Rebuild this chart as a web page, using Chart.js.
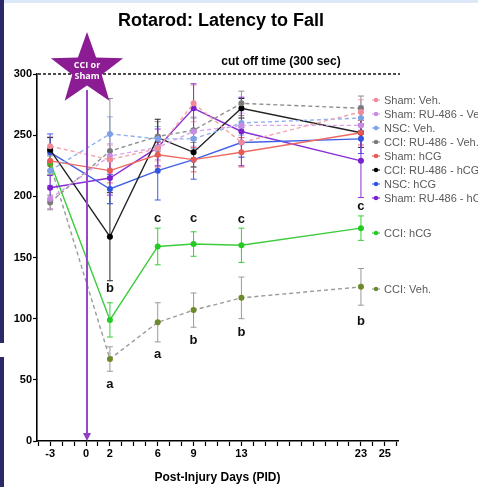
<!DOCTYPE html>
<html>
<head>
<meta charset="utf-8">
<script src="https://cdn.jsdelivr.net/npm/chart.js@4"></script>
<style>
  html, body { margin: 0; padding: 0; background: #fff; }
  #wrap { position: relative; width: 478px; height: 487px; overflow: hidden; }
  canvas { position: absolute; left: 0; top: 0; }
  .band { position: absolute; left: 0; top: 0; width: 478px; height: 3px; background: #dce8f7; }
  .edge { position: absolute; left: 0; width: 4px; background: #2b2969; }
</style>
</head>
<body>
<div id="wrap">
  <canvas id="c" width="478" height="487"></canvas>
  <div class="band"></div>
  <div class="edge" style="top:0;height:343px"></div>
  <div class="edge" style="top:357px;height:130px"></div>
</div>
<script>
// Test days (post-injury days; -3 is the pre-injury baseline)
const days = [-3, 2, 6, 9, 13, 23];
const xTickLabels = [-3, 0, 2, 6, 9, 13, 23, 25];
const yTickStep = 50;

// Group means (latency to fall, seconds) and their error bars
const shamVeh        = [241, 230, 239, 276, 244, 269];
const shamVehErr     = [8, 12, 10, 15, 12, 10];
const shamRuVeh      = [198, 233, 240, 253, 258, 258];
const shamRuVehErr   = [8, 10, 10, 12, 10, 10];
const nscVeh         = [221, 251, 247, 247, 260, 264];
const nscVehErr      = [12, 14, 10, 8, 10, 10];
const cciRuVeh       = [195, 237, 249, 254, 276, 272];
const cciRuVehErr    = [6, 43, 12, 10, 10, 10];
const shamHcg        = [229, 221, 234, 230, 236, 252];
const shamHcgErr     = [8, 10, 10, 10, 12, 10];
const cciRuHcg       = [238, 167, 248, 236, 272, 252];
const cciRuHcgErr    = [10, 36, 15, 12, 8, 12];
const nscHcg         = [236, 206, 221, 230, 244, 247];
const nscHcgErr      = [15, 12, 24, 16, 12, 12];
const shamRuHcg      = [207, 215, 240, 272, 253, 229];
const shamRuHcgErr   = [10, 14, 15, 20, 28, 30];
const cciHcg         = [228, 99, 159, 161, 160, 174];
const cciHcgErr      = [10, 14, 15, 10, 14, 10];
const cciVeh         = [226, 67, 97, 107, 117, 126];
const cciVehErr      = [8, 10, 16, 14, 17, 15];

// Significance letters: day, height (s), letter
const sigDays    = [2, 2, 6, 9, 13, 23, 6, 9, 13, 23];
const sigHeights = [125, 46, 71, 82, 89, 98, 182, 182, 181, 192];
const sigLetters = ['b', 'a', 'a', 'b', 'b', 'b', 'c', 'c', 'c', 'c'];

const cutoff = 300;
const injuryDay = 0;

const groups = [
  { label: 'Sham: Veh.',          y: shamVeh,   err: shamVehErr,   line: '#f3a3ab', point: '#f08a98', dash: true },
  { label: 'Sham: RU-486 - Veh.', y: shamRuVeh, err: shamRuVehErr, line: '#d7a4ec', point: '#c88be3', dash: true },
  { label: 'NSC: Veh.',           y: nscVeh,    err: nscVehErr,    line: '#8fb0ec', point: '#7d9fe6', dash: true },
  { label: 'CCI: RU-486 - Veh.',  y: cciRuVeh,  err: cciRuVehErr,  line: '#8e8e8e', point: '#7a7a7a', dash: true },
  { label: 'Sham: hCG',           y: shamHcg,   err: shamHcgErr,   line: '#ec6a62', point: '#e95a55', dash: false },
  { label: 'CCI: RU-486 - hCG',   y: cciRuHcg,  err: cciRuHcgErr,  line: '#222222', point: '#000000', dash: false },
  { label: 'NSC: hCG',            y: nscHcg,    err: nscHcgErr,    line: '#3f5fe6', point: '#3355e0', dash: false },
  { label: 'Sham: RU-486 - hCG',  y: shamRuHcg, err: shamRuHcgErr, line: '#8a2fd6', point: '#7a1fcc', dash: false },
  { label: 'CCI: hCG',            y: cciHcg,    err: cciHcgErr,    line: '#3ccc3c', point: '#22cc22', dash: false },
  { label: 'CCI: Veh.',           y: cciVeh,    err: cciVehErr,    line: '#9a9a9a', point: '#6d8a2a', dash: true }
];

// Legend rows (canvas y of each entry, right of the plot)
const legendRowsY = [100, 114, 128, 142, 156, 170, 184, 198, 233, 289];

const FONT = '"Liberation Sans", Arial, sans-serif';

const datasets = groups.map(g => ({
  label: g.label,
  data: days.map((d, i) => ({ x: d, y: g.y[i] })),
  errors: g.err,
  borderColor: g.line,
  backgroundColor: g.point,
  pointBackgroundColor: g.point,
  pointBorderColor: g.point,
  pointRadius: 3,
  pointBorderWidth: 0,
  borderWidth: 1.4,
  borderDash: g.dash ? [4, 3] : [],
  tension: 0,
  fill: false
}));

const errorBars = {
  id: 'errorBars',
  beforeDatasetsDraw(chart) {
    const { ctx, scales: { x, y } } = chart;
    ctx.save();
    chart.data.datasets.forEach(ds => {
      ctx.strokeStyle = ds.borderColor;
      ctx.lineWidth = 1;
      ctx.setLineDash([]);
      ds.data.forEach((p, i) => {
        const e = ds.errors[i];
        const px = x.getPixelForValue(p.x);
        const top = y.getPixelForValue(p.y + e);
        const bot = y.getPixelForValue(p.y - e);
        ctx.beginPath();
        ctx.moveTo(px, top); ctx.lineTo(px, bot);
        ctx.moveTo(px - 3, top); ctx.lineTo(px + 3, top);
        ctx.moveTo(px - 3, bot); ctx.lineTo(px + 3, bot);
        ctx.stroke();
      });
    });
    ctx.restore();
  }
};

const decorations = {
  id: 'decorations',
  afterDatasetsDraw(chart) {
    const { ctx, chartArea, scales: { x, y } } = chart;
    ctx.save();

    // cut-off line at 300 s
    const yc = y.getPixelForValue(cutoff);
    ctx.strokeStyle = '#111';
    ctx.lineWidth = 1.6;
    ctx.setLineDash([3, 2]);
    ctx.beginPath();
    ctx.moveTo(chartArea.left + 1, yc);
    ctx.lineTo(chartArea.right + 2, yc);
    ctx.stroke();
    ctx.setLineDash([]);

    ctx.fillStyle = '#000';
    ctx.font = 'bold 12px ' + FONT;
    ctx.textAlign = 'center';
    ctx.textBaseline = 'middle';
    ctx.fillText('cut off time (300 sec)', 281, yc - 12);

    // injury marker: vertical arrow at day 0 plus star
    const x0 = x.getPixelForValue(injuryDay) + 1;
    const yBottom = y.getPixelForValue(0);
    const cy = yc - 4, R = 38, r = 15.5;
    ctx.strokeStyle = '#9448c8';
    ctx.lineWidth = 2;
    ctx.beginPath();
    ctx.moveTo(x0, cy + 20);
    ctx.lineTo(x0, yBottom - 6);
    ctx.stroke();
    ctx.fillStyle = '#8e3fc6';
    ctx.beginPath();
    ctx.moveTo(x0 - 4, yBottom - 8);
    ctx.lineTo(x0 + 4, yBottom - 8);
    ctx.lineTo(x0, yBottom);
    ctx.closePath();
    ctx.fill();

    ctx.fillStyle = '#8c1c93';
    ctx.beginPath();
    for (let k = 0; k < 10; k++) {
      const rad = k % 2 === 0 ? R : r;
      const a = -Math.PI / 2 + k * Math.PI / 5;
      const px = x0 + rad * Math.cos(a), py = cy + rad * Math.sin(a);
      if (k === 0) ctx.moveTo(px, py); else ctx.lineTo(px, py);
    }
    ctx.closePath();
    ctx.fill();
    ctx.fillStyle = '#fff';
    ctx.font = 'bold 9px "Open Sans", ' + FONT;
    ctx.fillText('CCI or', x0, cy - 5);
    ctx.fillText('Sham', x0, cy + 6);

    // significance letters
    ctx.fillStyle = '#111';
    ctx.font = 'bold 13px ' + FONT;
    sigLetters.forEach((t, i) => {
      ctx.fillText(t, x.getPixelForValue(sigDays[i]), y.getPixelForValue(sigHeights[i]));
    });

    // title
    ctx.fillStyle = '#000';
    ctx.font = 'bold 18px ' + FONT;
    ctx.fillText('Rotarod: Latency to Fall', 221, 21);

    // legend
    ctx.font = '11px ' + FONT;
    ctx.textAlign = 'left';
    chart.data.datasets.forEach((ds, i) => {
      const ly = legendRowsY[i];
      ctx.strokeStyle = ds.borderColor;
      ctx.lineWidth = 1.2;
      ctx.beginPath();
      ctx.moveTo(372, ly); ctx.lineTo(380, ly);
      ctx.stroke();
      ctx.fillStyle = ds.pointBackgroundColor;
      ctx.beginPath();
      ctx.arc(376, ly, 2.2, 0, Math.PI * 2);
      ctx.fill();
      ctx.fillStyle = '#5a5a5a';
      ctx.fillText(ds.label, 384, ly + 0.5);
    });
    ctx.restore();
  }
};

new Chart(document.getElementById('c'), {
  type: 'line',
  data: { datasets },
  plugins: [errorBars, decorations],
  options: {
    responsive: false,
    animation: false,
    devicePixelRatio: 1,
    layout: { padding: { top: 74, right: 80, left: 0, bottom: 0 } },
    plugins: { legend: { display: false }, tooltip: { enabled: false } },
    scales: {
      x: {
        type: 'linear',
        min: -4.1,
        max: 26.1,
        afterBuildTicks(scale) {
          const t = [];
          for (let v = -4; v <= 26; v++) t.push({ value: v });
          scale.ticks = t;
        },
        afterFit(scale) { scale.height = 46; },
        border: { color: '#000', width: 1.6 },
        grid: { drawOnChartArea: false, drawTicks: true, tickLength: 5, tickColor: '#000', tickWidth: 1.2 },
        ticks: {
          autoSkip: false,
          maxRotation: 0,
          padding: 1,
          color: '#000',
          font: { family: FONT, size: 11, weight: 'bold' },
          callback: v => xTickLabels.includes(v) ? String(v) : ''
        },
        title: {
          display: true,
          text: 'Post-Injury Days (PID)',
          color: '#000',
          font: { family: FONT, size: 12, weight: 'bold' },
          padding: { top: 6, bottom: 2 }
        }
      },
      y: {
        min: 0,
        max: 300,
        afterFit(scale) { scale.width = 37; },
        border: { color: '#000', width: 1.6 },
        grid: { drawOnChartArea: false, drawTicks: true, tickLength: 4, tickColor: '#000', tickWidth: 1.2 },
        ticks: {
          stepSize: yTickStep,
          padding: 1,
          color: '#000',
          font: { family: FONT, size: 11, weight: 'bold' }
        }
      }
    }
  }
});
</script>
</body>
</html>
